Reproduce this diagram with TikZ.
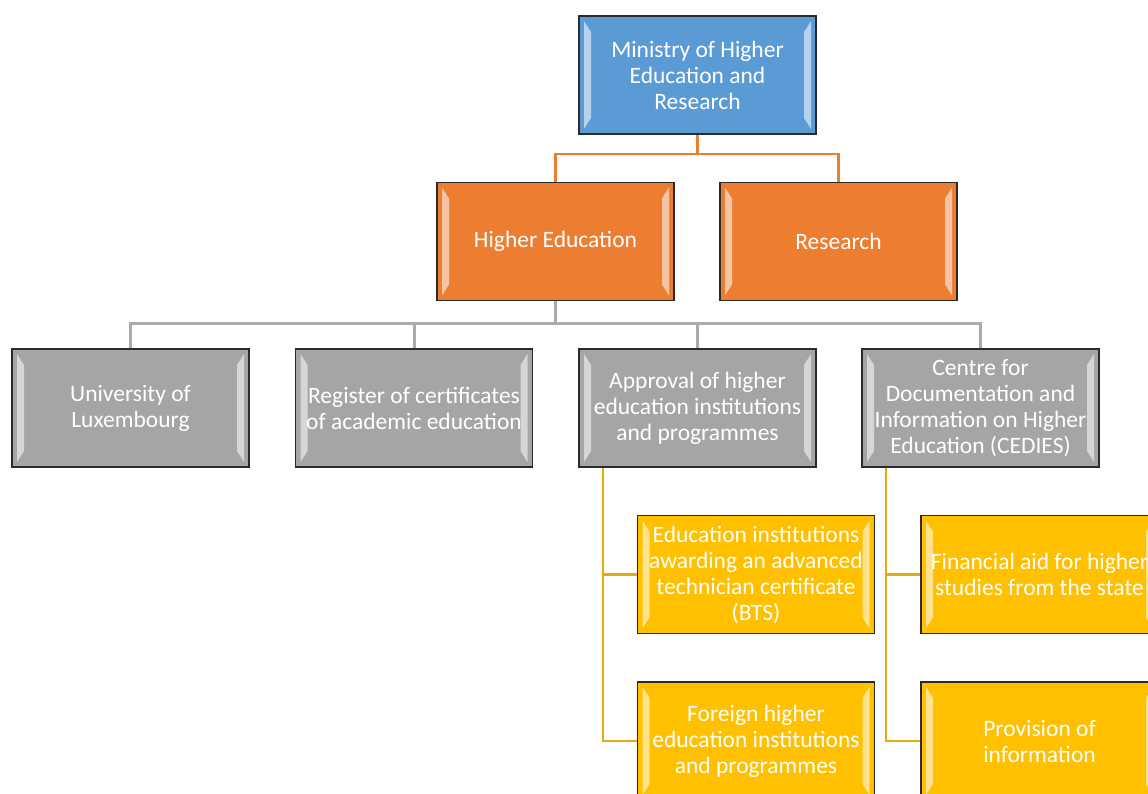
\documentclass[tikz,border=0pt]{standalone}
\usepackage{fontspec}
\setmainfont{Carlito}
\usetikzlibrary{backgrounds}
\definecolor{ministryblue}{HTML}{5B9BD5}
\definecolor{deptorange}{HTML}{ED7D31}
\definecolor{unitgray}{HTML}{A5A5A5}
\definecolor{taskyellow}{HTML}{FFC000}
\definecolor{boxline}{HTML}{2B2B2B}
\definecolor{grayline}{HTML}{ABABAB}
\definecolor{yellowline}{HTML}{E3AC0A}
\tikzset{
  orgbox/.style={draw=boxline, line width=1.6pt, minimum width=237pt, minimum height=118pt,
    inner sep=0pt, align=center, text=white, font=\fontsize{23.5}{26}\selectfont,
    path picture={
      \fill[white,opacity=0.55] ([shift={(5pt,-5pt)}]path picture bounding box.north west)
        -- ([shift={(12pt,-16pt)}]path picture bounding box.north west)
        -- ([shift={(12pt,16pt)}]path picture bounding box.south west)
        -- ([shift={(5pt,5pt)}]path picture bounding box.south west) -- cycle;
      \fill[white,opacity=0.55] ([shift={(-5pt,-5pt)}]path picture bounding box.north east)
        -- ([shift={(-12pt,-16pt)}]path picture bounding box.north east)
        -- ([shift={(-12pt,16pt)}]path picture bounding box.south east)
        -- ([shift={(-5pt,5pt)}]path picture bounding box.south east) -- cycle;
    }},
  ministry/.style={orgbox, fill=ministryblue},
  dept/.style={orgbox, fill=deptorange},
  unit/.style={orgbox, fill=unitgray},
  task/.style={orgbox, fill=taskyellow},
  orangelink/.style={draw=deptorange, line width=2.5pt},
  graylink/.style={draw=grayline, line width=3pt},
  yellowlink/.style={draw=yellowline, line width=2.5pt}
}
\begin{document}
\begin{tikzpicture}[x=1pt,y=-1pt]
\useasboundingbox (0,0) rectangle (1148,794);
% top level
\node [ministry] (mhe) at (697.5,75) {Ministry of Higher\\Education and\\Research};
% departments
\node [dept] (hed) at (555.5,241.5) {Higher Education};
\node [dept] (res) at (838.5,241.5) {Research};
% units of higher education
\node [unit] (uni) at (130.5,408) {University of\\Luxembourg};
\node [unit] (reg) at (414,408) {Register of certificates\\of academic education};
\node [unit] (appr) at (697.5,408) {Approval of higher\\education institutions\\and programmes};
\node [unit] (cedies) at (980.5,408) {Centre for\\Documentation and\\Information on Higher\\Education (CEDIES)};
% tasks
\node [task] (bts) at (756,574.5) {Education institutions\\awarding an advanced\\technician certificate\\(BTS)};
\node [task] (foreign) at (756,741) {Foreign higher\\education institutions\\and programmes};
\node [task] (aid) at (1039.5,574.5) {Financial aid for higher\\studies from the state};
\node [task] (info) at (1039.5,741) {Provision of\\information};
\begin{scope}[on background layer]
\fill [white] (0,0) rectangle (1148,794);
\draw [orangelink] (mhe.south) -- ++(0,19) -| (hed.north);
\draw [orangelink] (mhe.south) -- ++(0,19) -| (res.north);
\foreach \u in {uni,reg,appr,cedies}
  \draw [graylink] (hed.south) -- ++(0,22) -| (\u.north);
\draw [yellowlink] ([xshift=25pt]appr.south west) |- (bts.west);
\draw [yellowlink] ([xshift=25pt]appr.south west) |- (foreign.west);
\draw [yellowlink] ([xshift=25pt]cedies.south west) |- (aid.west);
\draw [yellowlink] ([xshift=25pt]cedies.south west) |- (info.west);
\end{scope}
\end{tikzpicture}
\end{document}
